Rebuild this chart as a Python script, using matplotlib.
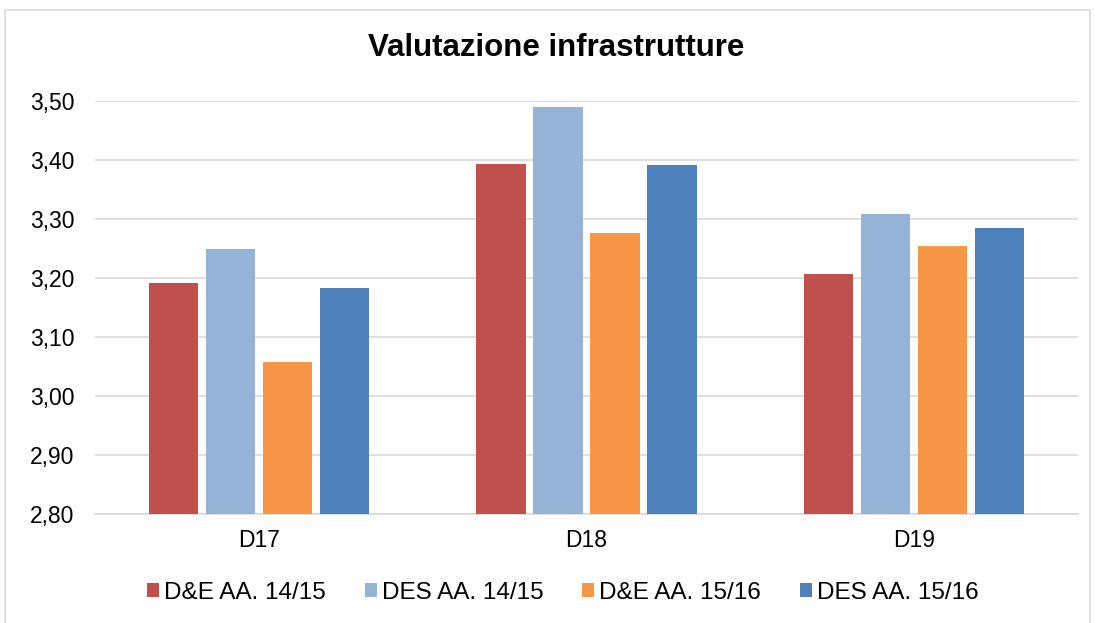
import matplotlib
matplotlib.use("Agg")
import matplotlib.pyplot as plt
from matplotlib.patches import Rectangle
import numpy as np

categories = ["D17", "D18", "D19"]
series_names = ["D&E AA. 14/15", "DES AA. 14/15", "D&E AA. 15/16", "DES AA. 15/16"]
de_1415 = [3.191, 3.394, 3.207]
des_1415 = [3.249, 3.490, 3.308]
de_1516 = [3.058, 3.276, 3.255]
des_1516 = [3.183, 3.391, 3.285]
yticks = [2.80, 2.90, 3.00, 3.10, 3.20, 3.30, 3.40, 3.50]
colors = ["#C0504D", "#95B3D7", "#F79646", "#4F81BD"]

plt.rcParams['font.family'] = ['Liberation Sans', 'DejaVu Sans']

fig = plt.figure(figsize=(10.95, 6.23), dpi=100)
ax = fig.add_axes([95/1095, 1-514/623, (1078-95)/1095, (514-101)/623])

fig.patches.append(Rectangle((5/1095, -0.05), 1085/1095, 1.05 - 10/623,
                             transform=fig.transFigure, fill=False,
                             edgecolor="#d9d9d9", linewidth=1.2))

x = np.arange(len(categories))
width = 0.15
pitch = 0.174
all_series = [de_1415, des_1415, de_1516, des_1516]
for i, (vals, name, c) in enumerate(zip(all_series, series_names, colors)):
    offs = (i - 1.5) * pitch
    ax.bar(x + offs, np.array(vals) - 2.80, width, bottom=2.80, color=c,
           label=name, zorder=3)

ax.set_xlim(-0.5, 2.5)
ax.set_ylim(2.80, 3.50)
ax.set_yticks(yticks)
ax.set_yticklabels([f"{v:.2f}".replace(".", ",") for v in yticks], fontsize=16.5)
ax.set_xticks(x)
ax.set_xticklabels(categories, fontsize=16.5)
ax.tick_params(axis='y', length=0, pad=15)
ax.tick_params(axis='x', length=0, pad=11)
ax.grid(axis='y', color="#d9d9d9", linewidth=1.2, zorder=0)
for s in ["left", "right", "top"]:
    ax.spines[s].set_visible(False)
ax.spines["bottom"].set_color("#d9d9d9")
ax.spines["bottom"].set_linewidth(1.2)

fig.text(0.508, 1-48/623, "Valutazione infrastrutture", ha="center", va="center",
         fontsize=22.5, fontweight="bold")

fig.legend(loc="center", bbox_to_anchor=(0.514, 1-593/623), ncol=4, frameon=False,
           fontsize=17.5, handlelength=0.5, handleheight=0.5, handletextpad=0.2,
           columnspacing=1.6)

fig.savefig("out.png", dpi=100)
